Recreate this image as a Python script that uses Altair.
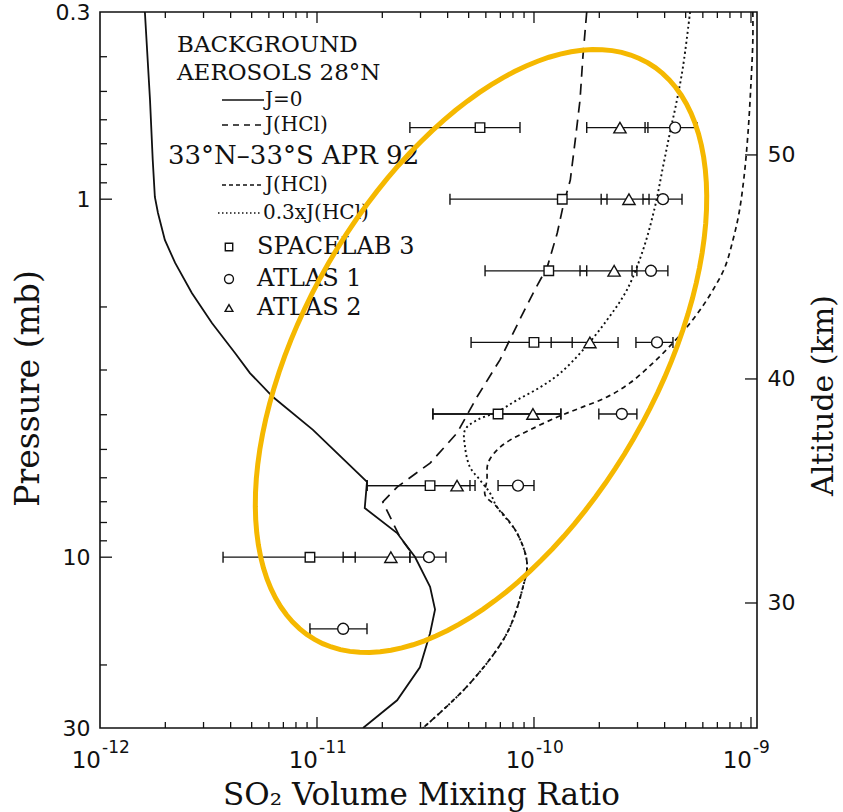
import altair as alt
import pandas as pd
import numpy as np

# ------------------------------------------------------------------ data
# Model profiles (pressure in mb, SO2 volume mixing ratio)
j0_p = [0.3, 0.528, 0.777, 0.986, 1.093, 1.30, 1.507, 1.828, 2.217, 2.69, 3.06,
        3.57, 4.41, 6.16, 7.29, 8.56, 9.99, 12.1, 14.0, 16.3, 20.3, 25.1, 30.0]
j0_vmr = [1.61e-12, 1.70e-12, 1.75e-12, 1.79e-12, 1.85e-12, 1.99e-12, 2.22e-12,
          2.65e-12, 3.28e-12, 4.19e-12, 4.91e-12, 6.27e-12, 9.58e-12, 1.70e-11,
          1.66e-11, 2.34e-11, 2.83e-11, 3.32e-11, 3.50e-11, 3.32e-11, 2.98e-11,
          2.34e-11, 1.63e-11]

bg_jhcl_p = [0.3, 0.401, 0.528, 0.683, 0.884, 1.05, 1.243, 1.55, 1.79, 2.08,
             2.81, 3.57, 4.50, 5.46, 6.37, 7.01, 8.78, 9.86]
bg_jhcl_vmr = [1.75e-10, 1.68e-10, 1.63e-10, 1.55e-10, 1.47e-10, 1.36e-10,
               1.28e-10, 1.15e-10, 1.01e-10, 8.90e-11, 6.97e-11, 5.46e-11,
               4.42e-11, 3.32e-11, 2.34e-11, 2.01e-11, 2.41e-11, 2.77e-11]

apr_jhcl_p = [0.3, 0.359, 0.474, 0.653, 0.867, 1.093, 1.30, 1.547, 1.793, 2.04,
              2.275, 2.52, 2.87, 3.26, 3.57, 3.83, 4.06, 4.41, 4.71, 5.02, 5.46,
              6.09, 6.70, 7.24, 8.56, 10.4, 12.1, 16.3, 22.5, 30.0]
apr_jhcl_vmr = [1.02e-9, 1.02e-9, 1.0e-9, 9.69e-10, 9.29e-10, 8.81e-10, 8.26e-10,
                7.59e-10, 6.68e-10, 5.82e-10, 5.07e-10, 4.37e-10, 3.53e-10,
                2.77e-10, 2.17e-10, 1.63e-10, 1.28e-10, 9.58e-11, 7.75e-11,
                6.75e-11, 6.14e-11, 6.07e-11, 5.95e-11, 6.75e-11, 8.35e-11,
                9.29e-11, 8.90e-11, 7.51e-11, 5.07e-11, 3.08e-11]

apr_03j_p = [0.3, 0.427, 0.528, 0.653, 0.813, 1.05, 1.387, 1.793, 2.175, 2.64,
             3.06, 3.35, 3.64, 3.93, 4.14, 4.41, 4.92, 5.60, 6.09, 6.62, 7.24,
             8.56, 10.4, 12.1, 16.3, 22.5, 30.0]
apr_03j_vmr = [5.24e-10, 4.86e-10, 4.56e-10, 4.23e-10, 3.93e-10, 3.61e-10,
               3.18e-10, 2.68e-10, 2.17e-10, 1.68e-10, 1.32e-10, 1.07e-10,
               8.35e-11, 6.75e-11, 5.46e-11, 4.81e-11, 4.81e-11, 5.07e-11,
               5.64e-11, 6.27e-11, 6.75e-11, 8.35e-11, 9.29e-11, 8.90e-11,
               7.51e-11, 5.07e-11, 3.08e-11]

# Measurements
levels = [0.631, 1.0, 1.585, 2.512, 3.981, 6.31, 10.0, 15.85]

spacelab_p = levels[:7]
spacelab = [5.64e-11, 1.35e-10, 1.17e-10, 1.0e-10, 6.83e-11, 3.32e-11, 9.28e-12]
spacelab_lo = [2.68e-11, 4.10e-11, 5.95e-11, 5.13e-11, 3.42e-11, 1.70e-11, 3.69e-12]
spacelab_hi = [8.62e-11, 2.17e-10, 1.75e-10, 1.50e-10, 1.33e-10, 5.35e-11, 1.50e-11]

atlas1_p = levels
atlas1 = [4.47e-10, 3.93e-10, 3.46e-10, 3.69e-10, 2.54e-10, 8.44e-11, 3.28e-11, 1.32e-11]
atlas1_lo = [3.25e-10, 3.18e-10, 2.83e-10, 2.95e-10, 1.99e-10, 6.83e-11, 2.68e-11, 9.28e-12]
atlas1_hi = [5.64e-10, 4.81e-10, 4.14e-10, 4.37e-10, 2.98e-10, 1.0e-10, 3.93e-11, 1.70e-11]

atlas2_p = levels[:7]
atlas2 = [2.49e-10, 2.74e-10, 2.34e-10, 1.81e-10, 9.89e-11, 4.42e-11, 2.19e-11]
atlas2_lo = [1.75e-10, 2.04e-10, 1.63e-10, 1.20e-10, 3.42e-11, 1.70e-11, 1.32e-11]
atlas2_hi = [3.35e-10, 3.39e-10, 2.98e-10, 2.44e-10, 1.33e-10, 5.07e-11, 2.68e-11]

# Axis ticks / labels
x_major = [1e-11, 1e-10, 1e-9]
x_minor = [m * d for d in (1e-12, 1e-11, 1e-10) for m in range(2, 10)]
x_label_vals = [1e-12, 1e-11, 1e-10, 1e-9]
x_label_exps = ["-12", "-11", "-10", "-9"]
y_major = [1, 10]
y_minor = [0.4, 0.5, 0.6, 0.7, 0.8, 0.9, 2, 3, 4, 5, 6, 7, 8, 9, 20]
y_labels = [0.3, 1, 10, 30]
alt_ticks = [30, 40, 50]
alt_domain = [24.42, 56.38]

# Highlight ellipse (centre in data units)
ell_vmr = [5.70e-11]
ell_p = [2.655]

# ------------------------------------------------------------------ style
W, H = 657, 716
SERIF = "DejaVu Serif"
SANS = "DejaVu Sans"
INK = "#111111"

xs = alt.Scale(type="log", domain=[1e-12, 1.066e-9], nice=False)
ys = alt.Scale(type="log", domain=[0.3, 30], reverse=True, nice=False)

x_axis = alt.Axis(labels=False, ticks=False, tickSize=0, domain=False, grid=False,
                  title="SO\u2082 Volume Mixing Ratio", titleFont=SERIF,
                  titleFontSize=31, titleFontWeight="normal", titleColor=INK,
                  titleX=321, titleY=67, titleAlign="center", titleBaseline="middle")
y_axis = alt.Axis(values=y_labels, format="~g", ticks=False, tickSize=0, domain=False,
                  grid=False, labelFont=SANS, labelFontSize=22, labelColor=INK,
                  labelPadding=10, labelFlush=False, labelOverlap=False,
                  title="Pressure (mb)", titleFont=SERIF, titleFontSize=33,
                  titleFontWeight="normal", titleColor=INK, titleAngle=270,
                  titleX=-72, titleY=376, titleAlign="center", titleBaseline="middle")


def XQ(f):
    return alt.X(f"{f}:Q", scale=xs, axis=x_axis)


def YQ(f):
    return alt.Y(f"{f}:Q", scale=ys, axis=y_axis)


def prof(p, v):
    return pd.DataFrame({"p": p, "v": v, "i": range(len(p))})


def line(p, v, dash=None, width=1.7, interp="linear"):
    kw = dict(color=INK, strokeWidth=width, clip=True, interpolate=interp)
    if dash:
        kw["strokeDash"] = dash
    return alt.Chart(prof(p, v)).mark_line(**kw).encode(
        x=XQ("v"), y=YQ("p"), order="i:Q")


j0 = line(j0_p, j0_vmr, width=1.8)
bg = line(bg_jhcl_p, bg_jhcl_vmr, dash=[11, 7])
apr = line(apr_jhcl_p, apr_jhcl_vmr, dash=[5, 4], interp="catmull-rom")
apr3 = line(apr_03j_p, apr_03j_vmr, dash=[2, 3], width=1.9, interp="catmull-rom")

# measurements
def meas(name, p, v, lo, hi):
    return pd.DataFrame({"series": name, "p": p, "v": v, "lo": lo, "hi": hi})

mdf = pd.concat([
    meas("SPACELAB 3", spacelab_p, spacelab, spacelab_lo, spacelab_hi),
    meas("ATLAS 1", atlas1_p, atlas1, atlas1_lo, atlas1_hi),
    meas("ATLAS 2", atlas2_p, atlas2, atlas2_lo, atlas2_hi),
], ignore_index=True)
caps = pd.concat([mdf[["p", "lo"]].rename(columns={"lo": "c"}),
                  mdf[["p", "hi"]].rename(columns={"hi": "c"})], ignore_index=True)

bars = alt.Chart(mdf).mark_rule(color=INK, strokeWidth=1.3).encode(
    x=XQ("lo"), x2="hi:Q", y=YQ("p"))
capm = alt.Chart(caps).mark_tick(orient="vertical", size=11, thickness=1.4,
                                 color=INK, opacity=1).encode(x=XQ("c"), y=YQ("p"))
shape_scale = alt.Scale(domain=["SPACELAB 3", "ATLAS 1", "ATLAS 2"],
                        range=["square", "circle", "triangle-up"])
size_scale = alt.Scale(domain=["SPACELAB 3", "ATLAS 1", "ATLAS 2"],
                       range=[90, 150, 110])
marks = alt.Chart(mdf).mark_point(filled=True, fill="white", stroke=INK,
                                  strokeWidth=1.4, opacity=1).encode(
    x=XQ("v"), y=YQ("p"),
    shape=alt.Shape("series:N", scale=shape_scale, legend=None),
    size=alt.Size("series:N", scale=size_scale, legend=None))

# frame ticks (inward)
def xt(vals, length, top):
    yc = length / 2 if top else H - length / 2
    return alt.Chart(pd.DataFrame({"v": vals})).mark_tick(
        orient="vertical", size=length, thickness=1.3, color=INK, opacity=1).encode(
        x=XQ("v"), y=alt.value(yc))


def yt(vals, length):
    return alt.Chart(pd.DataFrame({"p": vals})).mark_rule(
        color=INK, strokeWidth=1.3).encode(
        y=YQ("p"), x=alt.value(0), x2=alt.value(length))

ticks = [xt(x_minor, 6, False), xt(x_major, 11, False),
         xt(x_minor, 6, True), xt(x_major, 11, True),
         yt(y_minor, 7), yt(y_major, 12)]

xlab = pd.DataFrame({"v": x_label_vals, "e": x_label_exps, "b": ["10"] * 4})
base_lab = alt.Chart(xlab).mark_text(align="right", baseline="middle", font=SANS,
                                     fontSize=23, color=INK, dx=1).encode(
    x=XQ("v"), y=alt.value(H + 33), text="b:N")
exp_lab = alt.Chart(xlab).mark_text(align="left", baseline="middle", font=SANS,
                                    fontSize=17, color=INK, dx=2).encode(
    x=XQ("v"), y=alt.value(H + 20), text="e:N")

# in-plot legend
def txt(t, x, y, size, font=SERIF):
    return alt.Chart(pd.DataFrame({"t": [t]})).mark_text(
        align="left", baseline="middle", font=font, fontSize=size, color=INK).encode(
        text="t:N", x=alt.value(x), y=alt.value(y))


def sample(x1, x2, y, dash=None, width=1.6):
    kw = dict(color=INK, strokeWidth=width)
    if dash:
        kw["strokeDash"] = dash
    return alt.Chart(pd.DataFrame({"k": [0]})).mark_rule(**kw).encode(
        x=alt.value(x1), x2=alt.value(x2), y=alt.value(y))


def sym(shape, size, x, y):
    return alt.Chart(pd.DataFrame({"k": [0]})).mark_point(
        shape=shape, size=size, filled=True, fill="white", stroke=INK,
        strokeWidth=1.4, opacity=1).encode(x=alt.value(x), y=alt.value(y))

legend = [
    txt("BACKGROUND", 77, 33, 23),
    txt("AEROSOLS 28\u00b0N", 77, 61, 23),
    sample(122, 164, 88), txt("J=0", 165, 88, 20),
    sample(122, 164, 113, dash=[6, 5]), txt("J(HCl)", 165, 113, 20),
    txt("33\u00b0N\u201333\u00b0S APR 92", 68, 144, 26),
    sample(122, 164, 173, dash=[4, 3]), txt("J(HCl)", 165, 173, 20),
    sample(118, 162, 201, dash=[1.5, 2.5]), txt("0.3xJ(HCl)", 163, 201, 20),
    sym("square", 55, 129, 235), txt("SPACELAB 3", 157, 235, 24),
    sym("circle", 80, 129, 267), txt("ATLAS 1", 157, 267, 24),
    sym("triangle-up", 60, 129, 296), txt("ATLAS 2", 157, 296, 24),
]

# highlight ellipse (unit ellipse with axis ratio b/a, scaled by mark size)
ratio = 0.5285
ang = np.linspace(0, 2 * np.pi, 121)
ell_path = "M" + " L".join(f"{np.cos(a):.4f},{ratio * np.sin(a):.4f}" for a in ang) + " Z"
ellipse = alt.Chart(pd.DataFrame({"v": ell_vmr, "p": ell_p})).mark_point(
    shape=ell_path, size=666 ** 2, angle=300, filled=False, stroke="#F5B800",
    strokeWidth=5, opacity=1).encode(x=XQ("v"), y=YQ("p"))

inner = alt.layer(j0, bg, apr, apr3, bars, capm, marks, *ticks, base_lab, exp_lab,
                  *legend, ellipse)

alt_layer = alt.Chart(pd.DataFrame({"a": alt_ticks})).mark_rule(
    color=INK, strokeWidth=1.3).encode(
    x=alt.value(W), x2=alt.value(W - 12),
    y=alt.Y("a:Q", scale=alt.Scale(domain=alt_domain, nice=False, zero=False),
            axis=alt.Axis(orient="right", values=alt_ticks, ticks=False, tickSize=0,
                          domain=False, grid=False, labelFont=SANS, labelFontSize=22,
                          labelColor=INK, labelPadding=10, labelFlush=False,
                          title="Altitude (km)", titleFont=SERIF, titleFontSize=30,
                          titleFontWeight="normal", titleColor=INK, titleAngle=270,
                          titleX=66, titleY=383, titleAlign="center",
                          titleBaseline="middle")))

chart = alt.layer(inner, alt_layer).resolve_scale(y="independent").properties(
    width=W, height=H,
    autosize=alt.AutoSizeParams(type="none"),
    padding={"left": 100, "top": 12, "right": 86, "bottom": 84},
    background="white",
).configure_view(stroke=INK, strokeWidth=1.6)

chart.save("out.html", embed_options={"renderer": "svg", "actions": False})
